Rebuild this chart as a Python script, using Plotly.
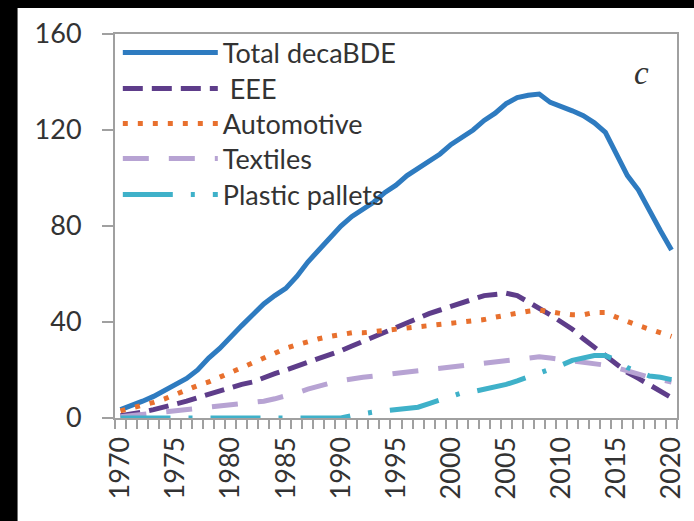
import plotly.graph_objects as go

years = list(range(1970, 2021))

total_decabde = [3.5, 5, 7, 9, 11.5, 14, 16.5, 20, 25, 29,
                 34, 38.5, 43, 47.5, 51, 54, 59, 65, 70, 75,
                 80, 84, 87, 90, 94, 97, 101, 104, 107, 110,
                 114, 117, 120, 124, 127, 131, 133.5, 134.5, 135, 131.5,
                 130, 128, 126, 123, 119, 110, 101, 95, 86, 78,
                 70]

eee = [1, 1.5, 2.5, 3.5, 4.5, 5.5, 7, 8.5, 10, 11.5,
       13, 14, 15, 17, 18.5, 20, 21.5, 23, 25, 26.5,
       28, 30, 32, 34, 36, 38, 40, 42, 43.5, 45,
       46.5, 48, 49.5, 51, 51.5, 52, 51, 48.5, 46, 43,
       40, 37, 33, 29.5, 26, 22.5, 19, 16.5, 14, 11,
       8.5]

automotive = [3, 4, 5.5, 6.5, 8, 10, 11.5, 13.5, 15, 17,
              19, 21, 23.5, 25.5, 27, 29, 30.5, 32, 33, 34,
              35, 35.5, 35.5, 36, 36, 36.5, 37, 37.5, 38, 38.5,
              39, 39.5, 40, 41, 42, 43, 43.5, 44.5, 45, 44,
              43.5, 43, 43, 44, 44, 42, 40, 38.5, 37, 35.5,
              34]

textiles = [0.5, 1, 1.5, 2, 2.5, 3, 3.5, 4, 4.3, 4.6,
            5, 5.5, 6, 7, 8, 9, 10.5, 12, 13.5, 14.5,
            15.5, 16.5, 17, 17.5, 18, 18.5, 19.5, 20, 20.5, 21,
            21.5, 22, 22.5, 23, 23.5, 24, 24.5, 25, 25.5, 25,
            24.5, 24, 23.5, 23, 22, 21, 19.5, 18, 17, 16,
            15]

plastic_pallets = [0, 0, 0, 0, 0, 0, 0, 0, 0, 0,
                   0, 0, 0, 0, 0, 0, 0, 0, 0, 0,
                   0, 1, 2, 2.5, 3, 3.5, 4, 4.5, 6, 7.5,
                   9, 10.5, 11, 12, 12.5, 14, 15.5, 17, 18.5, 20,
                   22, 24, 25, 26, 26, 24, 21, 19, 17.5, 17,
                   16]

series = [
    ("Total decaBDE", total_decabde, "#2e7bc0", "solid", 5),
    (" EEE", eee, "#5e3d8a", "20px,9px", 5),
    ("Automotive", automotive, "#e8702e", "5px,10px", 5),
    ("Textiles", textiles, "#b7a3d3", "26px,20px", 5),
    ("Plastic pallets", plastic_pallets, "#3fb1c9", "50px,18px,4px,18px", 5),
]

y_ticks = [0, 40, 80, 120, 160]
x_ticks = list(range(1970, 2021, 5))

W, H = 694, 521
ml, mr, mt, mb = 115, 8, 34, 103
pw, ph = W - ml - mr, H - mt - mb

# each legend row sits in its own legend box so the rows can be spaced freely
legend_rows_px = [53, 89, 124, 159, 195]
legend_font = dict(family="Lato", size=27, color="#333333")

fig = go.Figure()
legend_layout = {}
for i, (name, vals, color, dash, width) in enumerate(series):
    key = "legend" if i == 0 else f"legend{i + 1}"
    fig.add_trace(go.Scatter(
        x=years, y=vals, name=name, mode="lines",
        line=dict(color=color, dash=dash, width=width),
        legend=key,
    ))
    legend_layout[key] = dict(
        x=0.005, y=(418 - legend_rows_px[i]) / ph,
        xanchor="left", yanchor="middle",
        bgcolor="rgba(0,0,0,0)", itemwidth=95, font=legend_font,
    )

# black surround along the top and left edges of the page
fig.add_shape(type="rect", xref="paper", yref="paper",
              x0=-0.4, x1=1.1, y0=(418 - 8) / ph, y1=1.3,
              fillcolor="black", line_width=0, layer="above")
fig.add_shape(type="rect", xref="paper", yref="paper",
              x0=-0.4, x1=(16 - ml) / pw, y0=-0.4, y1=1.3,
              fillcolor="black", line_width=0, layer="above")

fig.add_annotation(text="<i>c</i>", xref="paper", yref="paper",
                   x=(660 - ml) / pw, y=(418 - 53) / ph,
                   showarrow=False,
                   font=dict(family="Liberation Serif", size=33, color="#333333"))

axis_color = "#a0a0a0"
tick_font = dict(family="Lato", size=27, color="#333333")
fig.update_layout(
    width=W, height=H,
    margin=dict(l=ml, r=mr, t=mt, b=mb),
    paper_bgcolor="white",
    plot_bgcolor="white",
    font=dict(family="Lato", size=27, color="#333333"),
    showlegend=True,
    xaxis=dict(range=[1969.5, 2020.5], tickvals=x_ticks,
               ticktext=[str(v) for v in x_ticks],
               tickangle=-90, ticks="", showgrid=False, zeroline=False,
               ticklabelstandoff=6,
               showline=True, linecolor=axis_color, linewidth=2, mirror=True,
               minor=dict(ticks="outside", tick0=1969.5, dtick=1,
                          ticklen=9, tickcolor=axis_color, tickwidth=1.5,
                          showgrid=False),
               tickfont=tick_font),
    yaxis=dict(range=[0, 160], tickvals=y_ticks, ticks="outside",
               ticklen=11, tickcolor=axis_color, tickwidth=1.5,
               ticklabelstandoff=15,
               showgrid=False, zeroline=False,
               showline=True, linecolor=axis_color, linewidth=2, mirror=True,
               tickfont=tick_font),
    **legend_layout,
)

fig.write_html("out.html")
